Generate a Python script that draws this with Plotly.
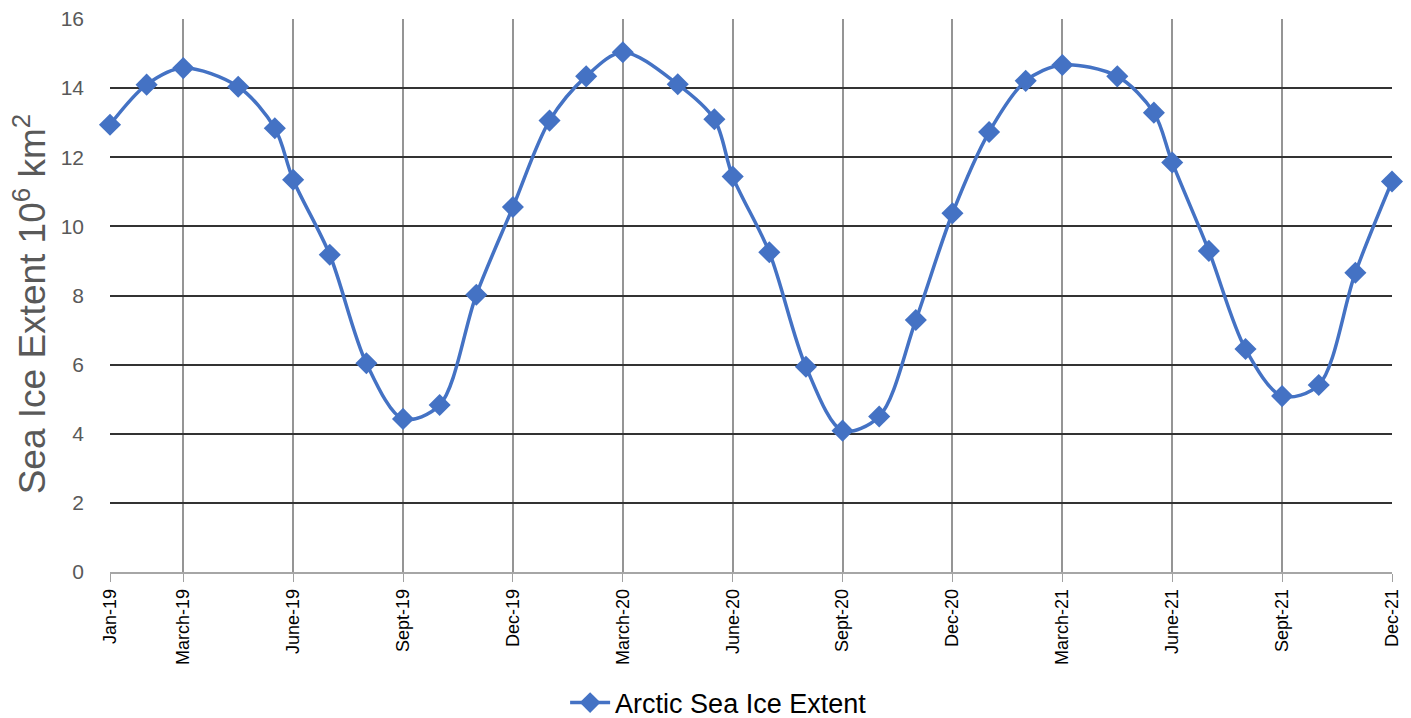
import plotly.graph_objects as go

# Month position (0 = Jan-19) of each observation and the extent value (10^6 km^2)
month_pos = [0, 1, 2, 3.5, 4.5, 5, 6, 7, 8, 9, 10, 11,
             12, 13, 14, 15.5, 16.5, 17, 18, 19, 20, 21, 22, 23,
             24, 25, 26, 27.5, 28.5, 29, 30, 31, 32, 33, 34, 35]
extent = [12.94, 14.10, 14.58, 14.04, 12.84, 11.35, 9.18, 6.04, 4.43, 4.83, 8.02, 10.56,
          13.06, 14.34, 15.04, 14.11, 13.10, 11.44, 9.25, 5.94, 4.09, 4.50, 7.29, 10.38,
          12.73, 14.21, 14.67, 14.34, 13.29, 11.85, 9.29, 6.45, 5.09, 5.41, 8.66, 11.30]

tick_pos = [0, 2, 5, 8, 11, 14, 17, 20, 23, 26, 29, 32, 35]
tick_text = ["Jan-19", "March-19", "June-19", "Sept-19", "Dec-19",
             "March-20", "June-20", "Sept-20", "Dec-20",
             "March-21", "June-21", "Sept-21", "Dec-21"]
y_ticks = [0, 2, 4, 6, 8, 10, 12, 14, 16]
y_title = "Sea Ice Extent 10<sup>6</sup> km<sup>2</sup>"

FONT = "Liberation Sans"
BLUE = "#4472C4"

fig = go.Figure()
fig.add_trace(go.Scatter(
    x=month_pos, y=extent, mode="lines+markers",
    name="Arctic Sea Ice Extent",
    line=dict(color=BLUE, width=3.5, shape="spline", smoothing=0.9),
    marker=dict(symbol="diamond", size=17, color=BLUE),
    cliponaxis=False,
))

# page body has an 8px default margin, so the figure is sized/offset to compensate
fig.update_layout(
    width=1403, height=710,
    margin=dict(l=102, r=19, t=11, b=146, autoexpand=False),
    paper_bgcolor="white", plot_bgcolor="white",
    showlegend=True,
    legend=dict(orientation="h", x=0.355, xanchor="left", y=-0.237, yanchor="middle",
                font=dict(family=FONT, size=27, color="#000000"),
                itemwidth=40),
    xaxis=dict(
        range=[0, 35], tickmode="array", tickvals=tick_pos, ticktext=tick_text,
        tickangle=-90, tickfont=dict(family=FONT, size=18, color="#000000"),
        showgrid=True, gridcolor="#959595", gridwidth=1.5,
        ticks="outside", ticklen=8, tickcolor="#A0A0A0", tickwidth=1,
        showline=True, linecolor="#A6A6A6", linewidth=1.5,
        zeroline=False, automargin=False,
    ),
    yaxis=dict(
        range=[0, 16], tickmode="array", tickvals=y_ticks,
        tickfont=dict(family=FONT, size=21, color="#595959"),
        showgrid=True, gridcolor="#333333", gridwidth=1.8,
        zeroline=False, showline=False, ticks="", ticklabelstandoff=25,
        ticklabeloverflow="allow",
        automargin=False,
    ),
    annotations=[dict(
        text=y_title, textangle=-90, showarrow=False,
        xref="paper", yref="paper", x=-0.062, y=0.485,
        xanchor="center", yanchor="middle",
        font=dict(family=FONT, size=37, color="#595959"),
    )],
)

fig.write_html("out.html")
